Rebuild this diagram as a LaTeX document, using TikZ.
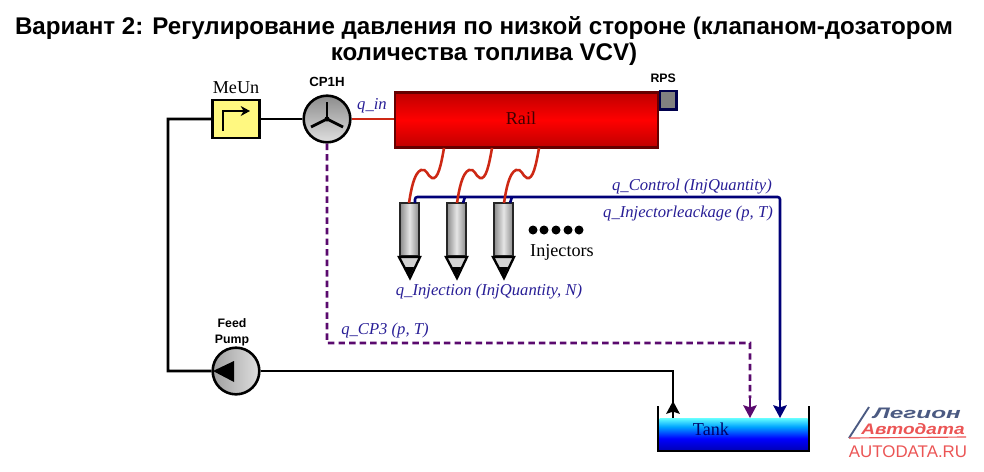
\documentclass[tikz,border=0pt]{standalone}
\usepackage{fontspec}
\setmainfont{Liberation Serif}
\newfontfamily\sansfont{Liberation Sans}
\usetikzlibrary{arrows.meta}
\definecolor{labelblue}{RGB}{40,30,150}
\definecolor{pipenavy}{RGB}{0,0,120}
\definecolor{pipepurple}{RGB}{90,10,110}
\definecolor{pipered}{RGB}{205,40,20}
\definecolor{logoblue}{RGB}{75,90,130}
\definecolor{logored}{RGB}{235,85,85}
\pgfdeclareverticalshading{tankshade}{100bp}{color(0bp)=(blue!70!black); color(25bp)=(blue!70!black); color(44bp)=(blue); color(62bp)=(blue!35!cyan); color(75bp)=(cyan!60); color(100bp)=(cyan!60)}
\tikzstyle{pump} = [circle, minimum size=1.4cm, inner sep=0pt, line width=2.2pt, draw=black]
\tikzstyle{injector} = [rectangle, minimum width=0.56cm, minimum height=1.58cm, inner sep=0pt, line width=2pt, draw=black!85, left color=gray!90, right color=gray!90, middle color=gray!20]
\tikzstyle{injtip} = [fill=gray!35, line width=2pt, draw=black, line join=miter]
\tikzstyle{qlabel} = [text=labelblue, font=\itshape\fontsize{14.2}{16}\selectfont, inner sep=0pt]
\tikzstyle{caption} = [font=\fontsize{15.5}{18}\selectfont, inner sep=0pt]
\tikzstyle{tag} = [font=\sansfont\bfseries\fontsize{10.5}{13.5}\selectfont, align=center, inner sep=0pt]
\tikzstyle{blackpipe} = [line width=2.2pt, draw=black]
\tikzstyle{redpipe} = [line width=2.2pt, draw=pipered]
\tikzstyle{arrow} = [-{Stealth[length=3.8mm,width=4mm,inset=0.6mm]}]

\begin{document}
\begin{tikzpicture}[x=0.03cm, y=-0.03cm]
\useasboundingbox (0,0) rectangle (984,471);

\node (title) [font=\sansfont\bfseries\fontsize{20.6}{23}\selectfont, align=center, inner sep=0pt] at (484,41) {Вариант 2: Регулирование давления по низкой стороне (клапаном-дозатором\\количества топлива VCV)};

\node (meun) [rectangle, minimum width=1.4cm, minimum height=1.14cm, line width=2.2pt, draw=black, fill=yellow!50] at (236,119) {};
\node (meunname) [caption, above of=meun, node distance=0.93cm] {MeUn};
\node (cp1h) [pump, right of=meun, node distance=2.73cm, top color=gray!90, bottom color=gray!25] {};
\node (cp1hname) [tag, above of=cp1h, node distance=1.11cm, font=\sansfont\bfseries\fontsize{11.3}{13.5}\selectfont] {CP1H};
\node (feedpump) [pump, below of=meun, node distance=7.56cm, left color=gray!75, right color=gray!25] {};
\node (feedname) [tag, above of=feedpump, node distance=1.17cm, xshift=-0.12cm] {Feed\\Pump};

\node (rail) [rectangle, minimum width=7.9cm, minimum height=1.64cm, line width=2pt, draw=black!60!red, top color=red!75!black, bottom color=red!75!black, middle color=red] at (526.5,120) {};
\node (railname) [caption, text=black!75!red] at (521,118) {Rail};
\node (rps) [rectangle, minimum width=0.5cm, minimum height=0.56cm, line width=2pt, draw=blue!30!black, fill=gray, right of=rail, node distance=4.25cm, yshift=0.59cm] {};
\node (rpsname) [tag, above of=rps, node distance=0.66cm, xshift=-0.15cm] {RPS};
\node (qin) [qlabel] at (372,106) {q\_in};

\node (inj1) [injector] at (409.5,229.5) {};
\node (inj2) [injector, right of=inj1, node distance=1.41cm] {};
\node (inj3) [injector, right of=inj2, node distance=1.41cm] {};

\draw [injtip] (inj1.south west) -- (inj1.south east) -- ++(-10,21) -- cycle;
\draw [injtip] (inj2.south west) -- (inj2.south east) -- ++(-10,21) -- cycle;
\draw [injtip] (inj3.south west) -- (inj3.south east) -- ++(-10,21) -- cycle;
\fill ([shift={(5,10)}]inj1.south west) -- ++(10,0) -- ++(-5,11) -- cycle;
\fill ([shift={(5,10)}]inj2.south west) -- ++(10,0) -- ++(-5,11) -- cycle;
\fill ([shift={(5,10)}]inj3.south west) -- ++(10,0) -- ++(-5,11) -- cycle;

\fill (533,230) circle (4.5) (544,230) circle (4.5) (556,230) circle (4.5) (568,230) circle (4.5) (579,230) circle (4.5);
\node (injname) [caption] at (562,252) {Injectors};
\node (qinj) [qlabel] at (489,292) {q\_Injection (InjQuantity, N)};
\node (qctrl) [qlabel] at (692,187) {q\_Control (InjQuantity)};
\node (qleak) [qlabel] at (688,213) {q\_Injectorleackage (p, T)};
\node (qcp3) [qlabel] at (385,330) {q\_CP3 (p, T)};

\node (tank) [rectangle, minimum width=4.44cm, minimum height=0.99cm, inner sep=0pt, shading=tankshade] at (733.5,434.5) {};
\node (tankname) [caption, text=blue!40!black] at (711,429) {Tank};

\coordinate (tankleft) at (658,406);
\coordinate (tankright) at (809,406);
\coordinate (meunturn) at (168,119);
\coordinate (feedturn) at (168,371);
\coordinate (blackin) at (673,418);
\coordinate (blackup) at (673,401);
\coordinate (cp3turn) at (327,343);
\coordinate (cp3in) at (750,418);
\coordinate (navystart) at (415,203);
\coordinate (navyturn) at (780,197);
\coordinate (navyin) at (780,418);

\draw [line width=2.2pt] (tankleft) -- (658,451) -- (809,451) -- (tankright);

\draw [blackpipe] (meun) -- (cp1h);
\draw [blackpipe] (meun) -- (meunturn) -- (feedturn) -- (feedpump);
\draw [blackpipe] (feedpump) -| (blackin);
\draw [blackpipe, arrow] (blackin) -- (blackup);
\draw [redpipe] (cp1h) -- (rail.west |- cp1h);

\draw [line width=2.4pt, draw=pipepurple, dash pattern=on 5.5pt off 3.5pt] (cp1h) -- (cp3turn) -- (cp3turn -| cp3in) -- (750,398);
\draw [line width=2pt, draw=pipepurple, arrow] (750,396) -- (cp3in);

\draw [line width=2.2pt, draw=pipenavy, rounded corners=2pt] (navystart) -- (415,197) -- (navyturn) -- (780,400);
\draw [line width=2.2pt, draw=pipenavy, arrow] (780,395) -- (navyin);
\draw [line width=2.2pt, draw=pipenavy] (463,203) -- (465,197);
\draw [line width=2.2pt, draw=pipenavy] (510,203) -- (512,197);

\draw [redpipe] (444,148) .. controls (441,165) and (438,180) .. (432,178) .. controls (427,176) and (427,168) .. (421,170) .. controls (414,173) and (411,190) .. (409,203);
\draw [redpipe] (492,148) .. controls (489,165) and (486,180) .. (480,178) .. controls (475,176) and (475,168) .. (469,170) .. controls (462,173) and (459,190) .. (457,203);
\draw [redpipe] (539,148) .. controls (536,165) and (533,180) .. (527,178) .. controls (522,176) and (522,168) .. (516,170) .. controls (509,173) and (506,190) .. (504,203);

\draw [line width=2.4pt] (cp1h.center) -- ++(0,-17);
\draw [line width=2.4pt] (cp1h.center) -- ++(-16,8);
\draw [line width=2.4pt] (cp1h.center) -- ++(16,8);
\fill (cp1h.center) circle (2.5);

\draw [line width=2.2pt, -{Stealth[length=2.8mm,width=3mm]}] (223,131) -- (223,111) -- (250,111);
\fill (213,371) -- (234,361) -- (234,382) -- cycle;

\node (logotop) [font=\sansfont\bfseries\itshape\fontsize{13}{13}\selectfont, text=logoblue, inner sep=0pt] at (917,413) {\scalebox{1.6}[1]{Легион}};
\node (logomid) [font=\sansfont\bfseries\itshape\fontsize{13}{13}\selectfont, text=logored, inner sep=0pt] at (913,429) {\scalebox{1.25}[1]{Автодата}};
\node (logourl) [font=\sansfont\fontsize{14.4}{14.4}\selectfont, text=logored, inner sep=0pt] at (908,452) {AUTODATA.RU};
\draw [line width=1.6pt, draw=logoblue] (869,407) -- (849,438);
\draw [line width=1pt, draw=logored] (849,438) -- (966,437);
\end{tikzpicture}
\end{document}
